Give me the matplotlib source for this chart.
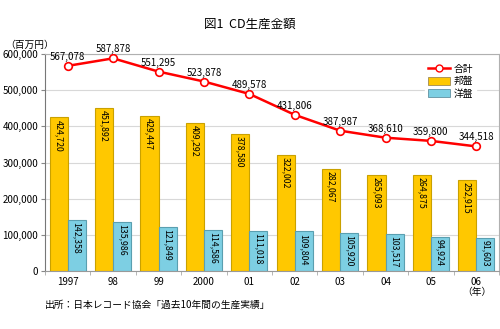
import numpy as np
import matplotlib
matplotlib.use("Agg")
import matplotlib.pyplot as plt
from matplotlib.lines import Line2D
from matplotlib.patches import Patch

plt.rcParams['font.family'] = ['Noto Sans CJK JP', 'DejaVu Sans']

years = ['1997', '98', '99', '2000', '01', '02', '03', '04', '05', '06']
goukei = [567078, 587878, 551295, 523878, 489578, 431806, 387987, 368610, 359800, 344518]
houban = [424720, 451892, 429447, 409292, 378580, 322002, 282067, 265093, 264875, 252915]
youban = [142358, 135986, 121849, 114586, 111018, 109804, 105920, 103517, 94924, 91603]

c_hou = '#ffc800'
c_you = '#7dcfe3'

fig = plt.figure(figsize=(5, 3.29), dpi=100)
ax = fig.add_axes([0.09, 0.176, 0.908, 0.66])

x = np.arange(len(years))
w = 0.4
ax.bar(x - w / 2, houban, w, color=c_hou, edgecolor='#c9a100', linewidth=0.8, zorder=2)
ax.bar(x + w / 2, youban, w, color=c_you, edgecolor='#5a9fb0', linewidth=0.8, zorder=2)

def fmt(v):
    return '{:,}'.format(v)

for i in range(len(years)):
    ax.text(x[i] - w / 2, houban[i] - 6000, fmt(houban[i]), rotation=-90,
            ha='center', va='top', fontsize=6.3, zorder=3)
    ax.text(x[i] + w / 2, youban[i] - 6000, fmt(youban[i]), rotation=-90,
            ha='center', va='top', fontsize=6.3, zorder=3)

ax.plot(x, goukei, color='#ff0000', linewidth=1.8, marker='o', markersize=5.5,
        markerfacecolor='white', markeredgecolor='#ff0000', markeredgewidth=1.2, zorder=4)
for i in range(len(years)):
    ax.text(x[i], goukei[i] + 11000, fmt(goukei[i]), ha='center', va='bottom',
            fontsize=7, zorder=5)

ax.set_xlim(-0.5, 9.5)
ax.set_ylim(0, 600000)
ax.set_yticks(np.arange(0, 600001, 100000))
ax.set_yticklabels([fmt(v) for v in range(0, 600001, 100000)], fontsize=7)
ax.set_xticks(x)
ax.set_xticklabels(years, fontsize=7)
ax.set_xticks(np.arange(-0.5, 9.6, 1), minor=True)
ax.tick_params(axis='x', which='major', length=0, pad=4)
ax.tick_params(axis='x', which='minor', length=3, color='#aaaaaa')
ax.tick_params(axis='y', length=3, color='#888888', pad=2)
ax.grid(axis='y', color='#d8d8d8', linewidth=0.8, zorder=0)
ax.set_axisbelow(True)
for s in ['top', 'right']:
    ax.spines[s].set_color('#b0b0b0')
ax.spines['left'].set_color('#777777')
ax.spines['bottom'].set_color('#999999')

handles = [
    Line2D([0], [0], color='#ff0000', linewidth=1.8, marker='o', markersize=5,
           markerfacecolor='white', markeredgecolor='#ff0000'),
    Patch(facecolor=c_hou, edgecolor='#a08a50', linewidth=0.6),
    Patch(facecolor=c_you, edgecolor='#6090a0', linewidth=0.6),
]
leg = ax.legend(handles, ['合計', '邦盤', '洋盤'], loc='upper right',
                bbox_to_anchor=(0.96, 0.99), fontsize=7, frameon=True,
                handlelength=2.2, handleheight=0.9, labelspacing=0.25,
                borderpad=0.3, handletextpad=0.4)
leg.get_frame().set_edgecolor('white')
leg.get_frame().set_facecolor('white')
leg.get_frame().set_alpha(1)

fig.text(0.5, 0.925, '図1  CD生産金額', ha='center', va='center', fontsize=9)
fig.text(0.01, 0.865, '（百万円）', ha='left', va='center', fontsize=7)
fig.text(0.953, 0.113, '（年）', ha='center', va='center', fontsize=7)
fig.text(0.09, 0.075, '出所：日本レコード協会「過去10年間の生産実績」', ha='left',
         va='center', fontsize=7)

fig.savefig('out.png', dpi=100)
